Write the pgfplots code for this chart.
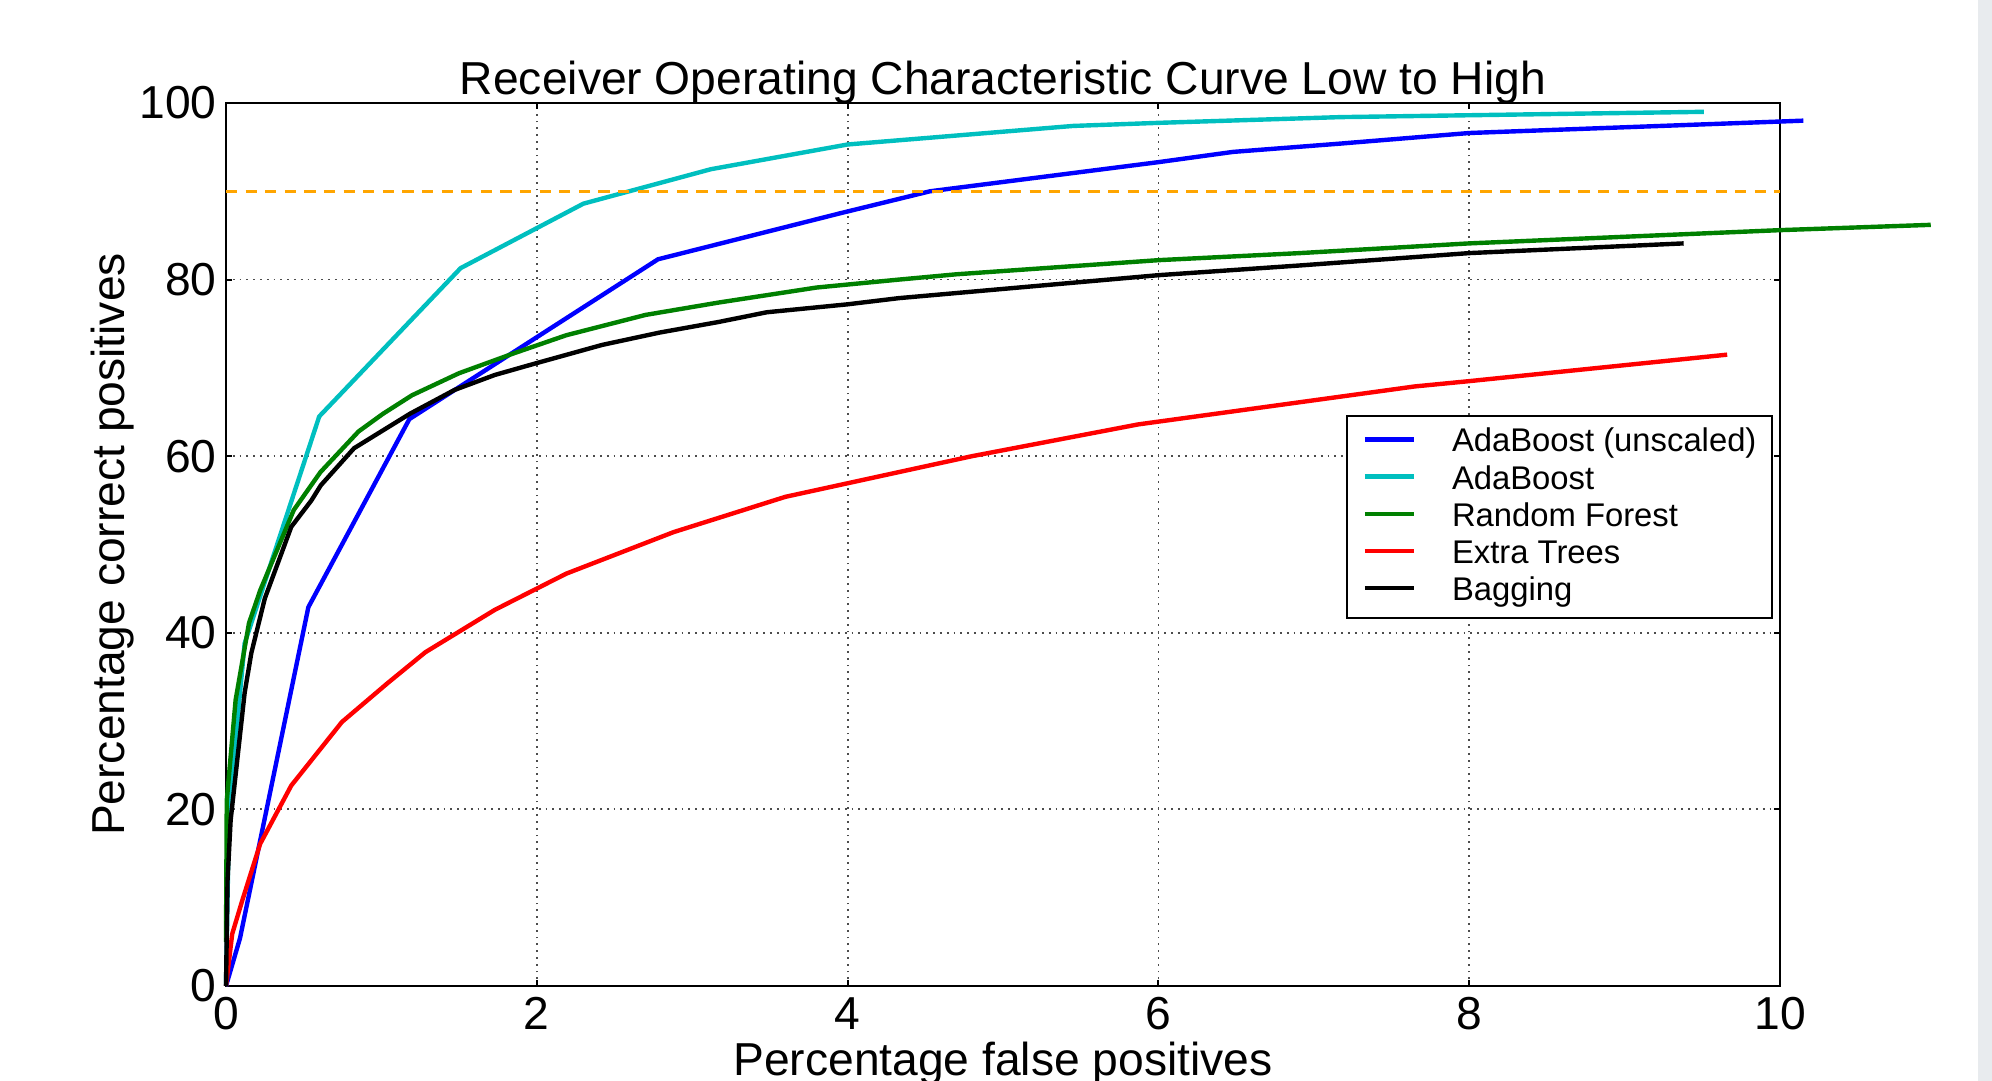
\documentclass[border=0pt]{standalone}
\usepackage{pgfplots}
\pgfplotsset{compat=1.18}
\usepackage{fontspec}
\setmainfont{Liberation Sans}
\definecolor{mplblue}{rgb}{0,0,1}
\definecolor{mplcyan}{rgb}{0,0.75,0.75}
\definecolor{mplgreen}{rgb}{0,0.5,0}
\definecolor{mplred}{rgb}{1,0,0}
\definecolor{mplorange}{rgb}{1,0.647,0}
\definecolor{stripgray}{HTML}{E8EBEE}
\newcommand\mainsize{\fontsize{11.55bp}{13bp}\selectfont}
\newcommand\legsize{\fontsize{8.2bp}{9.3bp}\selectfont}
\begin{document}
\begin{tikzpicture}
\begin{axis}[
  scale only axis, width=388.5bp, height=220.75bp,
  xmin=0, xmax=10, ymin=0, ymax=100,
  xtick={0,2,...,10}, ytick={0,20,...,100},
  clip=false,
  axis line style={line width=0.5bp},
  tick style={line width=0.5bp, black}, major tick length=1.6bp, tick align=inside,
  grid=major, major grid style={line width=0.45bp, black!70, dash pattern=on 0.45bp off 1.25bp},
  /pgf/number format/assume math mode=true,
  ticklabel style={font=\mainsize},
  xticklabel style={inner sep=0pt, yshift=-2.7bp},
  yticklabel style={inner sep=0pt, xshift=-2.15bp},
  every axis title shift=0pt,
  title={Receiver Operating Characteristic Curve Low to High},
  title style={font=\mainsize, at={(axis description cs:0.5,1)}, anchor=base, yshift=2bp, inner sep=0pt},
  xlabel={Percentage false positives},
  xlabel style={font=\mainsize, at={(axis description cs:0.5,-0.1019)}, anchor=base, inner sep=0pt},
  ylabel={Percentage correct positives},
  ylabel style={font=\mainsize, at={(axis description cs:-0.0655,0.5)}, anchor=base, inner sep=0pt},
  legend cell align=left,
  legend image code/.code={\draw[#1] (0bp,0.8bp) -- (12.25bp,0.8bp);},
  legend style={at={(axis description cs:0.9958,0.6467)}, anchor=north east,
    draw=black, line width=0.5bp, fill=white, font=\legsize,
    inner xsep=4bp, inner ysep=2bp, row sep=0pt,
    nodes={inner sep=0pt, text height=7bp, text depth=2.3bp},
    /tikz/every odd column/.append style={column sep=9bp}},
  every axis plot/.append style={line width=1.1bp, line join=round},
]
\addplot[mplblue] coordinates {
(0,0) (0.09,5.4) (0.53,42.9) (1.18,64.2) (2.78,82.3) (3.95,87.5) (4.53,90.0)
(6.0,93.3) (6.48,94.46) (7.17,95.4) (8.0,96.6) (10.0,97.9) (10.15,98.0)};
\addlegendentry{AdaBoost (unscaled)}
\addplot[mplcyan] coordinates {
(0,0) (0.02,20) (0.12,38.8) (0.6,64.5) (1.51,81.3) (2.3,88.6) (3.12,92.5)
(4.0,95.3) (5.45,97.4) (6.0,97.75) (7.17,98.4) (9.51,99.0)};
\addlegendentry{AdaBoost}
\addplot[mplgreen] coordinates {
(0,5) (0.005,21) (0.062,32.4) (0.148,41.1) (0.22,44.8) (0.436,53.9) (0.608,58.2)
(0.853,62.8) (1.01,64.8) (1.197,66.9) (1.5,69.4) (1.844,71.6) (2.19,73.7)
(2.70,76.0) (3.17,77.4) (3.80,79.1) (4.33,80.0) (4.7,80.6) (6.0,82.2)
(6.91,83.0) (8.0,84.1) (10.0,85.6) (10.97,86.2)};
\addlegendentry{Random Forest}
\addplot[mplred] coordinates {
(0,0) (0.04,5.9) (0.105,9.7) (0.22,16.1) (0.42,22.7) (0.746,29.9) (1.04,34.3)
(1.283,37.8) (1.73,42.6) (2.19,46.7) (2.88,51.4) (3.6,55.4) (4.33,58.2)
(4.8,60.0) (5.87,63.6) (7.65,67.9) (8.0,68.5) (9.66,71.5)};
\addlegendentry{Extra Trees}
\addplot[black] coordinates {
(0,0) (0.01,12) (0.03,18.8) (0.12,33.2) (0.163,37.7) (0.25,43.9) (0.42,52.0)
(0.55,55.0) (0.61,56.7) (0.824,60.9) (1.183,64.8) (1.47,67.5) (1.73,69.2)
(1.99,70.5) (2.42,72.6) (2.79,74.0) (3.17,75.2) (3.48,76.3) (4.0,77.2)
(4.33,77.9) (6.0,80.5) (6.91,81.6) (8.0,83.0) (9.38,84.1)};
\addlegendentry{Bagging}
\addplot[mplorange, line width=0.75bp, dash pattern=on 2.8bp off 2.1bp, forget plot] coordinates {(0,90) (10,90)};
\end{axis}
\fill[stripgray] (438bp,-23.75bp) rectangle (441.5bp,246.5bp);
\pgfresetboundingbox
\useasboundingbox (-56.5bp,-23.75bp) rectangle (441.5bp,246.5bp);
\end{tikzpicture}
\end{document}
